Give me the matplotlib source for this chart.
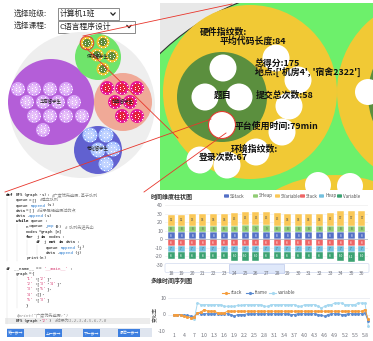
import re
import numpy as np
import matplotlib
matplotlib.use('Agg')
import matplotlib.pyplot as plt
from matplotlib.patches import Circle, Rectangle, FancyBboxPatch

plt.rcParams['font.family'] = ['Noto Sans CJK SC', 'DejaVu Sans']

W, H = 373, 341

# ---------------- data ----------------
class_label = '选择班级:'
class_value = '计算机1班'
course_label = '选择课程:'
course_value = 'C语言程序设计'

group_names = ['华裔留学生', '伊朗留学生', '越南留学生', '老挝留学生']

detail_texts = ['硬件指纹数:', '平均代码长度:84', '总得分:175', "地点:['机房4', '宿舍2322']",
                '题目', '提交总次数:58', '平台使用时间:79min', '环境指纹数:', '登录次数:67']

code_lines = [
    "def BFS(graph,s): #广度优先遍历,基于队列",
    "    queue=[] #建立队列",
    "    queue.append(s)",
    "    data=[] #记录已经遍历过的点",
    "    data.append(s)",
    "    while queue:",
    "        n=queue.pop(0) # 队列先进先出",
    "        nodes=graph[n]",
    "        for j in nodes:",
    "            if j not in data:",
    "                queue.append(j)",
    "                data.append(j)",
    "        print(n)",
    "",
    "if __name__ == '__main__':",
    "    graph={",
    "        '1':['2'],",
    "        '2':['3','4'],",
    "        '3':['5'],",
    "        '4':[],",
    "        '5':['3']",
    "        }",
    "",
    "    #print(\"广度优先遍历:\")",
    "    BFS(graph,'2') #结果为1,2,3,4,5,6,7,8",
]
buttons = ['第一步', '上一步', '下一步', '最后一步']

bar_title = '时间维度柱状图'
bar_cats = list(range(18, 37))
SStack = [8, 8, 8, 8, 8, 8, 8, 8, 8, 8, 8, 8, 8, 8, 8, 8, 8, 8, 8]
SHeap = [8, 8, 8, 8, 8, 8, 8, 9, 9, 9, 8, 8, 8, 8, 8, 8, 8, 8, 8]
SVariable = [12, 12, 13, 14, 14, 14, 15, 15, 15, 15, 15, 14, 14, 14, 14, 15, 17, 17, 17]
Stack = [-8] * 19
Heap = [-7] * 19
Variable = [-8, -8, -8, -8, -8, -8, -10, -10, -10, -8, -8, -8, -8, -8, -8, -8, -10, -11, -10]
bar_series = ['SStack', 'SHeap', 'SVariable', 'Stack', 'Heap', 'Variable']
bar_colors = ['#5470c6', '#91cc75', '#fac858', '#ee6666', '#73c0de', '#3ba272']
bar_yticks = [-30, -20, -10, 0, 10, 20, 30, 40]

line_title = '多维时间序列图'
line_ylabel = '变化率'
line_x = list(range(1, 60))
stack = [0, 0, -0.5, -1, -1.5, -2, -1.5, 1, 1.5, 3,
         2, 2, 2, 1, 1, 1, 2, 2, 2, 2,
         2, 2, 2, 2, 2, 2, 2, 2, 2, 2,
         2, 2, 2, 2, 2, 2, 2, 2, 2, 2,
         2, 2, 2, 2, 2, 2, 2, 2, 2, 2,
         2, 2, 2, 2, 2, 2, 2, 3, -3]
frame = [0, 0, 0, -0.5, -0.5, -1, -1.5, 1, 0.5, 0.5,
         0.5, 0.5, 0.5, 0.5, 0.5, 0.5, 0.5, 0, -1, 0,
         0, 0, 0.5, 0.5, 0.5, 0.5, 0.5, 0.5, 0.5, 0.5,
         0.5, 0.5, 0.5, 0.5, 0.5, 0, 0, 0.5, 0.5, 0.5,
         0.5, 0.5, 0.5, 0, -0.5, -1, 0, 0.5, 0.5, 0.5,
         0, 0, 0.5, 0.5, 0.5, 0.5, 0.5, 1, -4]
variable = [0, 0, 0, -0.5, -1, -2, -3, 7, 6, 6,
            6, 6, 6, 6, 6, 5, 5, 5, 5, 5.5,
            5.5, 6, 6, 6, 6, 6, 6, 5, 5, 6,
            6, 6, 6, 6, 6, 6, 6, 5, 5, 6,
            6, 6, 6, 5, 4, 5, 6, 6, 7, 7,
            7, 6, 6, 6, 6, 7, 7, 7, -7]
line_names = ['stack', 'frame', 'variable']
line_colors = ['#f59d3d', '#5b8bd0', '#a6d8f0']
line_tick_pos = list(range(1, 59, 3))
line_tick_labels = ['1', '4', '7', '1.0', '1.3', '1.6', '1.9', '2.2', '2.5', '2.8',
                    '3.1', '3.4', '3.7', '4.0', '4.3', '4.6', '4.9', '5.2', '5.5', '5.8']

# ---------------- figure ----------------
fig = plt.figure(figsize=(W / 100, H / 100), dpi=100, facecolor='white')


def px_axes(x0, y0, x1, y1, z=1):
    ax = fig.add_axes([x0 / W, 1 - y1 / H, (x1 - x0) / W, (y1 - y0) / H], zorder=z)
    return ax


def pix(ax, x0, x1, y0, y1):
    ax.set_xlim(x0, x1)
    ax.set_ylim(y1, y0)
    ax.axis('off')


def chevron(ax, cx, cy):
    ax.plot([cx - 2.2, cx, cx + 2.2], [cy - 1.2, cy + 1.2, cy - 1.2], color='#222', lw=0.9,
            solid_capstyle='round', solid_joinstyle='round')


# ---- base layer: circle packing + dropdowns ----
ax0 = px_axes(0, 0, W, H, z=0)
pix(ax0, 0, W, 0, H)

ax0.text(14, 14, class_label, fontsize=5.6, color='#333', va='center', ha='left')
ax0.add_patch(Rectangle((58, 8), 61, 12, fc='white', ec='#777', lw=0.6))
ax0.text(60, 14, class_value, fontsize=5.6, color='#222', va='center', ha='left')
chevron(ax0, 113, 14)
ax0.text(14, 26, course_label, fontsize=5.6, color='#333', va='center', ha='left')
ax0.add_patch(Rectangle((58, 20.5), 77, 12, fc='white', ec='#777', lw=0.6))
ax0.text(59, 26.5, course_value, fontsize=5.6, color='#222', va='center', ha='left')
chevron(ax0, 129, 26.5)

ax0.add_patch(Circle((82, 105), 73, fc='#eeeeee', ec='none'))
groups = [
    dict(c=(51, 102), r=43, fc='#b45ed8', name=group_names[0], kind='purple',
         kids=[(18, 89), (34, 89), (50, 89), (66, 89), (27, 102), (43, 102), (58, 102), (74, 102),
               (34, 116), (50, 116), (66, 116), (82, 116), (43, 130)]),
    dict(c=(98, 57), r=23, fc='#6fe46b', name=group_names[1], kind='green',
         kids=[(87, 43), (103, 42), (97, 55), (112, 56), (103, 69)]),
    dict(c=(123, 102), r=29, fc='#f0a997', name=group_names[2], kind='pink',
         kids=[(107, 88), (122, 88), (137, 88), (115, 102), (130, 102), (122, 116), (137, 116)]),
    dict(c=(98, 150), r=24, fc='#6161d0', name=group_names[3], kind='blue',
         kids=[(90, 135), (106, 135), (113, 149), (98, 150), (106, 164)]),
]
kid_style = {
    'purple': ('#d9a3f7', '#e6bff9', 7),
    'green': ('#f0c532', '#5d8c3b', 6.5),
    'pink': ('#e8199a', '#e3203a', 7),
    'blue': ('#a9c2ff', '#c2d4ff', 7.5),
}
for g in groups:
    ax0.add_patch(Circle(g['c'], g['r'], fc=g['fc'], ec='none'))
    ring, center, kr = kid_style[g['kind']]
    for (kx, ky) in g['kids']:
        ax0.add_patch(Circle((kx, ky), kr, fc=ring, ec='none'))
        ax0.add_patch(Circle((kx, ky), kr * 0.62, fc=center, ec='none'))
        ang = np.linspace(0, 2 * np.pi, 11)[:-1]
        ax0.scatter(kx + kr * 0.8 * np.cos(ang), ky + kr * 0.8 * np.sin(ang), s=0.5, c='white', lw=0, zorder=3)
        ang2 = np.linspace(0, 2 * np.pi, 6)[:-1]
        ax0.scatter(kx + kr * 0.35 * np.cos(ang2), ky + kr * 0.35 * np.sin(ang2), s=0.5, c='white', lw=0, zorder=3)
    ax0.text(g['c'][0], g['c'][1] - 1, g['name'], fontsize=3.2, color='#222', ha='center', va='center', zorder=4)
ax0.add_patch(Circle((87, 43), 6.8, fc='none', ec='#e23b2e', lw=0.7, zorder=5))

# ---- code panel ----
mono = ['DejaVu Sans Mono', 'Noto Sans CJK SC']
fs_code = 3.0
cw = 0.602 * fs_code * 100 / 72
x_code = 6
y_code0 = 195
dy_code = 5.25
ax0.add_patch(Rectangle((5, y_code0 + 24 * dy_code - 2.7), 145, 5.4, fc='#ececec', ec='none'))
for (col, a, b) in [(1, 1, 12), (2, 6, 12), (3, 9, 11), (4, 10, 11), (1, 15, 24), (2, 16, 21)]:
    xg = x_code + 4 * col * cw - 4 * cw + 1
    ax0.plot([xg, xg], [y_code0 + a * dy_code - 2.5, y_code0 + b * dy_code + 2.5], color='#dddddd', lw=0.3)

kw = {'def', 'while', 'for', 'if', 'in', 'not'}
tok_re = re.compile(r"(#.*$)|('[^']*'|\"[^\"]*\")|([A-Za-z_]\w*)|(\s+)|(.)")
for i, line in enumerate(code_lines):
    y = y_code0 + i * dy_code
    col = 0
    prev = ''
    for m in tok_re.finditer(line):
        t = m.group(0)
        color, style, weight = '#111111', 'normal', 'normal'
        if m.group(1):
            color, style = '#8a8a8a', 'italic'
        elif m.group(2):
            color = '#d6336c'
        elif m.group(3):
            if t in kw:
                color, weight = '#000000', 'bold'
            elif prev == '.':
                color = '#2f7fd0'
        if not t.isspace():
            ax0.text(x_code + col * cw, y, t, fontsize=fs_code, family=mono, color=color,
                     style=style, weight=weight, ha='left', va='center')
        col += len(t)
        prev = t

ax0.add_patch(Rectangle((7, 328), 145, 9, fc='#dfe5ef', ec='none'))
for bx, bw, lab in zip([7, 45, 83, 118], [17, 17, 17, 22], buttons):
    ax0.add_patch(Rectangle((bx, 329), bw, 7.5, fc='#3d7fe0', ec='none'))
    ax0.text(bx + bw / 2, 332.8, lab + '→', fontsize=2.8, color='white', ha='center', va='center')

# ---- chart titles / legends / slider (pixel layer) ----
ax0.text(151, 196, bar_title, fontsize=4.3, color='#333', weight='bold', ha='left', va='center')
leg_x = [224, 253, 275, 300, 319, 337]
for lx, name, c in zip(leg_x, bar_series, bar_colors):
    ax0.add_patch(FancyBboxPatch((lx, 194.3), 5, 3.4, boxstyle='round,pad=0,rounding_size=0.8', fc=c, ec='none'))
    ax0.text(lx + 6, 196, name, fontsize=3.3, color='#555', ha='left', va='center')

ax0.add_patch(FancyBboxPatch((165, 263.5), 204, 9, boxstyle='round,pad=0,rounding_size=1.5',
                             fc='white', ec='#d2dbee', lw=0.5))
ax0.add_patch(Rectangle((229, 263.5), 55, 9, fc='#dce6fa', ec='#aabbe6', lw=0.4, alpha=0.9))

ax0.text(151, 281, line_title, fontsize=4.3, color='#333', weight='bold', ha='left', va='center')
ax0.text(156, 315, line_ylabel, fontsize=3.6, color='#444', rotation=90, ha='center', va='center')
ll_x = [222, 246, 269]
for lx, name, c in zip(ll_x, line_names, line_colors):
    ax0.plot([lx, lx + 7], [293, 293], color=c, lw=0.8)
    ax0.plot([lx + 3.5], [293], 'o', color=c, ms=1.3)
    ax0.text(lx + 9, 293, name, fontsize=3.4, color='#555', ha='left', va='center')

# ---- zoom panel ----
axz = px_axes(160, 3, W, 190, z=1)
pix(axz, 160, W, 3, 190)
axz.add_patch(Rectangle((160, 3), W - 160, 187, fc='#e8e8e8', ec='none'))
axz.add_patch(Circle((330, 230), 245, fc='#6df06b', ec='#333333', lw=0.8))
axz.add_patch(Circle((432, 92), 95, fc='#f1c935', ec='none'))
axz.add_patch(Circle((440, 95), 72, fc='#5b8f3e', ec='none'))
axz.add_patch(Circle((368, 92), 13, fc='white', ec='none'))
axz.add_patch(Circle((335, 300), 125, fc='#f1c935', ec='none'))
for (wx, wy) in [(318, 185), (350, 186)]:
    axz.add_patch(Circle((wx, wy), 13, fc='white', ec='none'))
axz.add_patch(Circle((250, 92), 87, fc='#f1c935', ec='none'))
for (wx, wy) in [(276, 58), (298, 80), (289, 106), (282, 132), (256, 152), (227, 165), (200, 160)]:
    axz.add_patch(Circle((wx, wy), 13.5, fc='white', ec='none'))
axz.add_patch(Circle((222, 97), 45, fc='#5b8f3e', ec='none'))
for (wx, wy) in [(223, 68), (205, 97), (239, 97)]:
    axz.add_patch(Circle((wx, wy), 13.5, fc='white', ec='none'))
axz.add_patch(Circle((222, 125), 13.5, fc='white', ec='#e23b2e', lw=0.8))

txt_pos = [(200, 32), (220, 41), (255, 63), (255, 72), (214, 95), (256, 95), (235, 126), (231, 149), (199, 158)]
for (tx, ty), s in zip(txt_pos, detail_texts):
    axz.text(tx, ty, s, fontsize=6.4, color='#111', weight='bold', ha='left', va='center')

# ---- bar chart ----
axb = px_axes(165, 205, 368, 265, z=2)
axb.set_xlim(-0.57, 18.57)
axb.set_ylim(-30, 40)
axb.patch.set_alpha(0)
for sp in axb.spines.values():
    sp.set_visible(False)
axb.set_yticks(bar_yticks)
axb.set_yticklabels([str(v) for v in bar_yticks], fontsize=3.8, color='#6e7079')
axb.tick_params(length=0, pad=1.5)
axb.set_xticks([])
axb.grid(axis='y', color='#eeeeee', lw=0.5)
axb.set_axisbelow(True)
xi = np.arange(len(bar_cats))
pos_series = [SStack, SHeap, SVariable]
neg_series = [Stack, Heap, Variable]
bot = np.zeros(len(xi))
for vals, c in zip(pos_series, bar_colors[:3]):
    v = np.array(vals, float)
    axb.bar(xi, v, bottom=bot, width=0.66, color=c, edgecolor='white', lw=0.3)
    for k in range(len(xi)):
        axb.text(xi[k], bot[k] + v[k] / 2, str(vals[k]), fontsize=2.2,
                 color='#555' if c != '#5470c6' else 'white', ha='center', va='center')
    bot = bot + v
bot = np.zeros(len(xi))
for vals, c in zip(neg_series, bar_colors[3:]):
    v = np.array(vals, float)
    axb.bar(xi, v, bottom=bot, width=0.66, color=c, edgecolor='white', lw=0.3)
    for k in range(len(xi)):
        axb.text(xi[k], bot[k] + v[k] / 2, str(vals[k]), fontsize=2.2,
                 color='white' if c != '#73c0de' else '#555', ha='center', va='center')
    bot = bot + v
axb.axhline(0, color='#aab2c4', lw=0.5, zorder=5)
for k, c in enumerate(bar_cats):
    axb.text(xi[k], -39.5, str(c), fontsize=3.5, color='#6e7079', ha='center', va='center', clip_on=False)

# ---- line chart ----
axl = px_axes(168, 298, 370, 331, z=2)
axl.set_xlim(-0.8, 59.5)
axl.set_ylim(-10, 10)
axl.patch.set_alpha(0)
for sp in axl.spines.values():
    sp.set_visible(False)
axl.set_yticks([-10, 0, 10])
axl.set_yticklabels(['-10', '0', '10'], fontsize=3.8, color='#6e7079')
axl.set_xticks(line_tick_pos)
axl.set_xticklabels(line_tick_labels, fontsize=3.6, color='#6e7079')
axl.tick_params(length=0, pad=1.5)
axl.grid(axis='y', color='#e6e9f0', lw=0.5)
for vals, c, m in zip([variable, frame, stack], [line_colors[2], line_colors[1], line_colors[0]], ['o', 'o', 's']):
    axl.plot(line_x, vals, color=c, lw=0.7, marker=m, ms=1.1, zorder=3)

# ---- top layer: red connector lines ----
axt = px_axes(0, 0, W, H, z=10)
pix(axt, 0, W, 0, H)
for (x0, y0, x1, y1) in [(83, 36, 232, 4), (86, 48, 178, 138), (5, 192, 211, 119), (144, 192, 226, 133)]:
    axt.plot([x0, x1], [y0, y1], color='#e8352b', lw=0.6)

fig.savefig('out.png', dpi=100, facecolor='white')
